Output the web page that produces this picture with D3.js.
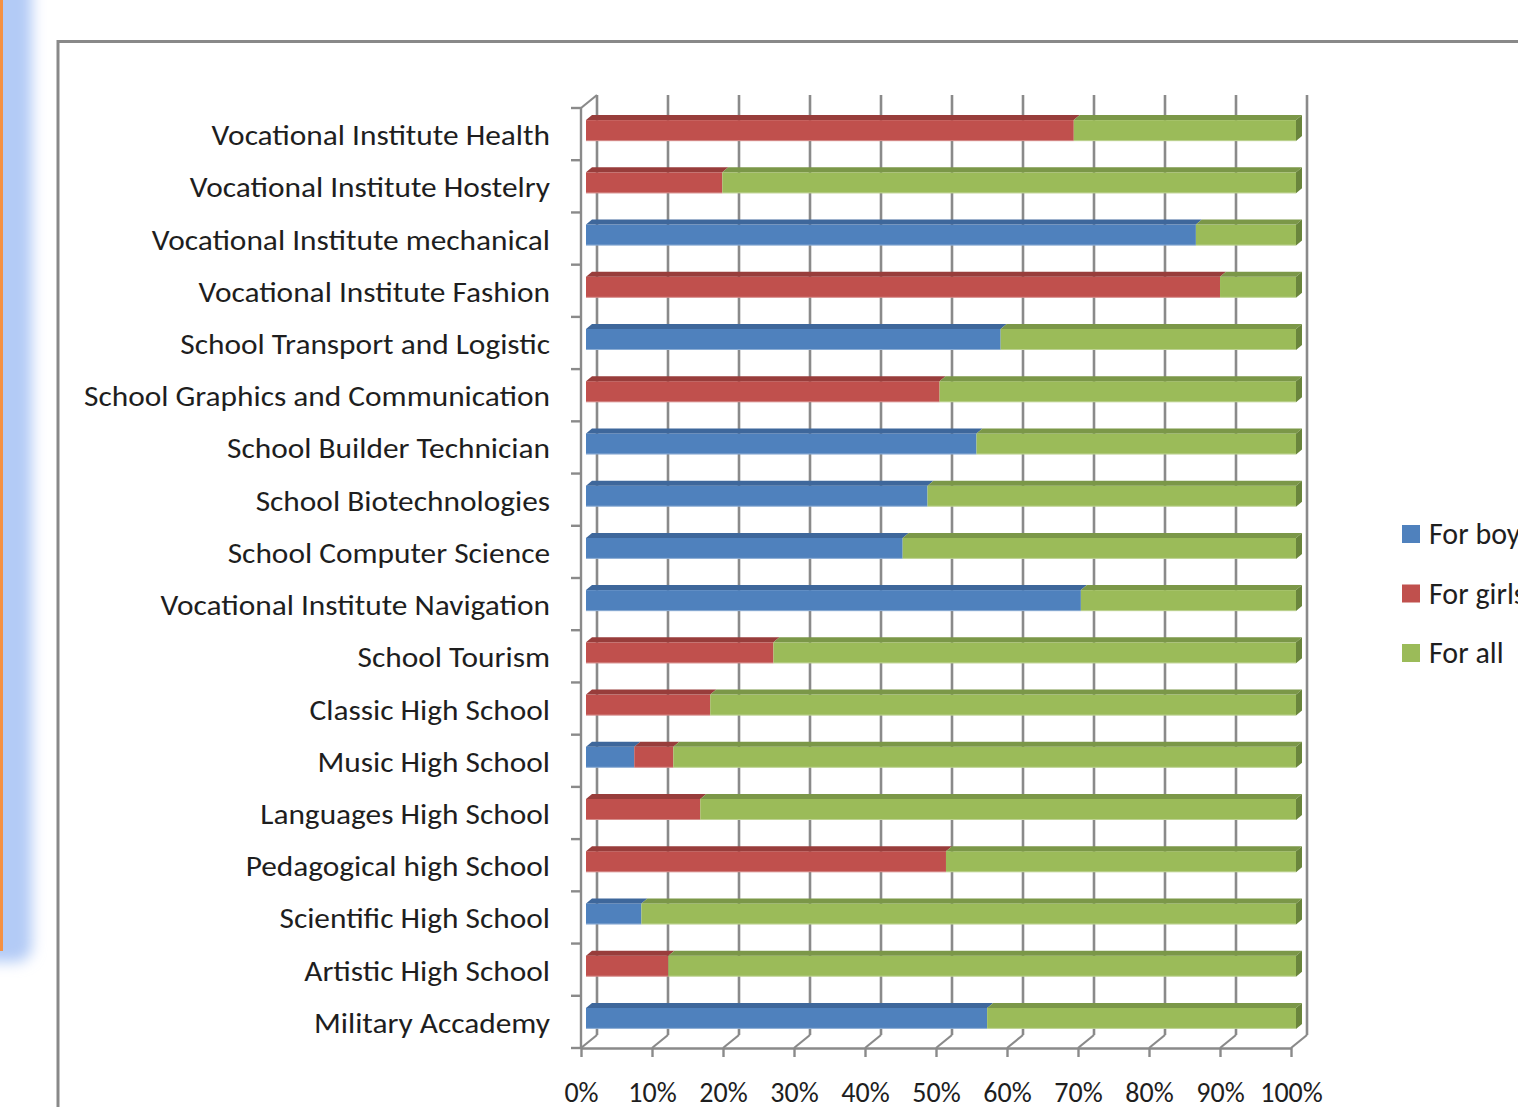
<!DOCTYPE html>
<html>
<head>
<meta charset="utf-8">
<script src="https://cdn.jsdelivr.net/npm/d3@7"></script>
<style>
  html, body { margin: 0; padding: 0; background: #ffffff; overflow: hidden; }
  svg { display: block; }
  text { font-family: Carlito, Calibri, Lato, "Noto Sans", sans-serif; fill: #1e1e1e; }
</style>
</head>
<body>
<svg id="chart" width="1518" height="1107"></svg>
<script>
// ---------------- data ----------------
const categories = [
  "Vocational Institute Health",
  "Vocational Institute Hostelry",
  "Vocational Institute mechanical",
  "Vocational Institute Fashion",
  "School Transport and Logistic",
  "School Graphics and Communication",
  "School Builder Technician",
  "School Biotechnologies",
  "School Computer Science",
  "Vocational Institute Navigation",
  "School Tourism",
  "Classic High School",
  "Music High School",
  "Languages High School",
  "Pedagogical high School",
  "Scientific High School",
  "Artistic High School",
  "Military Accademy"
];
const forBoys  = [0, 0, 85.9, 0, 58.4, 0, 55.0, 48.1, 44.6, 69.7, 0, 0, 6.8, 0, 0, 7.8, 0, 56.5];
const forGirls = [68.7, 19.2, 0, 89.3, 0, 49.8, 0, 0, 0, 0, 26.4, 17.5, 5.5, 16.1, 50.7, 0, 11.6, 0];
const forAll   = [31.3, 80.8, 14.1, 10.7, 41.6, 50.2, 45.0, 51.9, 55.4, 30.3, 73.6, 82.5, 87.7, 83.9, 49.3, 92.2, 88.4, 43.5];
const seriesNames = ["For boys", "For girls", "For all"];
const xTickValues = [0, 10, 20, 30, 40, 50, 60, 70, 80, 90, 100];

// ---------------- setup ----------------
const svg = d3.select("#chart");
const colors = ["#4f81bd", "#c0504d", "#9bbb59"];
const topColors = ["#3e679b", "#983d3b", "#7b9748"];
const sideColors = ["#36598a", "#843331", "#6a853c"];

const defs = svg.append("defs");
const blur = defs.append("filter").attr("id", "glow").attr("x", "-50%").attr("y", "-10%").attr("width", "200%").attr("height", "120%");
blur.append("feGaussianBlur").attr("stdDeviation", 7);

// slide decoration on the left
svg.append("rect").attr("x", -30).attr("y", -30).attr("width", 62).attr("height", 992)
  .attr("rx", 16).attr("fill", "#b3cbf6").attr("filter", "url(#glow)");
svg.append("rect").attr("x", 0).attr("y", 0).attr("width", 3).attr("height", 951).attr("fill", "#f59143");

// chart box
svg.append("rect").attr("x", 58).attr("y", 41.5).attr("width", 1600).attr("height", 1200)
  .attr("fill", "#ffffff").attr("stroke", "#898989").attr("stroke-width", 3);

// scales
const x = d3.scaleLinear().domain([0, 100]).range([581, 1291]);      // front floor edge
const y = d3.scaleBand().domain(categories).range([108, 1048]).padding(0);
const depth = { dx: 16, dy: -13 };             // full depth of the 3D box
const barDepth = { front: 5, dx: 6, dy: -5 };  // bar front offset and bar own depth
const barHalf = 10.5, barShift = -3.5;

const gridColor = "#8a8a8a";
const g = svg.append("g");

// back wall gridlines
g.selectAll("line.grid").data(xTickValues).join("line")
  .attr("x1", d => x(d) + depth.dx).attr("x2", d => x(d) + depth.dx)
  .attr("y1", y.range()[0] + depth.dy).attr("y2", y.range()[1] + depth.dy)
  .attr("stroke", gridColor).attr("stroke-width", 2.6);

// floor diagonals
g.selectAll("line.floor").data(xTickValues).join("line")
  .attr("x1", d => x(d)).attr("y1", y.range()[1])
  .attr("x2", d => x(d) + depth.dx).attr("y2", y.range()[1] + depth.dy)
  .attr("stroke", gridColor).attr("stroke-width", 2.2);

// left axis line + top diagonal
g.append("line").attr("x1", x(0)).attr("x2", x(0)).attr("y1", y.range()[0]).attr("y2", y.range()[1])
  .attr("stroke", gridColor).attr("stroke-width", 2.4);
g.append("line").attr("x1", x(0)).attr("y1", y.range()[0]).attr("x2", x(0) + depth.dx).attr("y2", y.range()[0] + depth.dy)
  .attr("stroke", gridColor).attr("stroke-width", 2.2);
// left ticks at category boundaries
const boundaries = categories.map(c => y(c)).concat([y.range()[1]]);
g.selectAll("line.ytick").data(boundaries).join("line")
  .attr("x1", x(0) - 10).attr("x2", x(0)).attr("y1", d => d).attr("y2", d => d)
  .attr("stroke", gridColor).attr("stroke-width", 2.4);

// bottom axis
const xAxis = d3.axisBottom(x).tickValues(xTickValues).tickFormat(d => d + "%").tickSize(9).tickSizeOuter(0).tickPadding(25);
const ax = svg.append("g").attr("transform", `translate(0,${y.range()[1]})`).call(xAxis);
ax.select(".domain").attr("stroke", gridColor).attr("stroke-width", 2.4);
ax.selectAll(".tick line").attr("stroke", gridColor).attr("stroke-width", 2.4);
ax.selectAll(".tick text").attr("font-size", 28).attr("fill", "#1e1e1e")
  .style("font-family", "Carlito, Calibri, Lato, 'Noto Sans', sans-serif");

// stacked bars
const rows = categories.map((c, i) => ({ cat: c, "For boys": forBoys[i], "For girls": forGirls[i], "For all": forAll[i] }));
const stacked = d3.stack().keys(seriesNames)(rows);
const xb = v => x(v) + barDepth.front;

const barsG = svg.append("g");
categories.forEach((c, i) => {
  const cy = y(c) + y.bandwidth() / 2 + barShift;
  const yt = cy - barHalf, yb = cy + barHalf;
  let lastEnd = null, lastIdx = 0;
  stacked.forEach((s, si) => {
    const seg = s[i];
    if (seg[1] - seg[0] <= 0) return;
    const x0 = xb(seg[0]), x1 = xb(seg[1]);
    barsG.append("rect").attr("x", x0).attr("y", yt).attr("width", x1 - x0).attr("height", yb - yt)
      .attr("fill", colors[si]);
    barsG.append("polygon")
      .attr("points", [[x0, yt], [x1, yt], [x1 + barDepth.dx, yt + barDepth.dy], [x0 + barDepth.dx, yt + barDepth.dy]].map(p => p.join(",")).join(" "))
      .attr("fill", topColors[si]);
    barsG.append("line").attr("x1", x0).attr("x2", x1).attr("y1", yb - 0.5).attr("y2", yb - 0.5)
      .attr("stroke", "#ffffff").attr("stroke-opacity", 0.35).attr("stroke-width", 1);
    lastEnd = x1; lastIdx = si;
  });
  if (lastEnd !== null) {
    barsG.append("polygon")
      .attr("points", [[lastEnd, yt], [lastEnd + barDepth.dx, yt + barDepth.dy], [lastEnd + barDepth.dx, yb + barDepth.dy], [lastEnd, yb]].map(p => p.join(",")).join(" "))
      .attr("fill", sideColors[lastIdx]);
  }
});

// category labels
const labels = svg.append("g").selectAll("text").data(categories).join("text")
  .attr("x", 550).attr("y", d => y(d) + y.bandwidth() / 2 + 11)
  .attr("text-anchor", "end").attr("font-size", 29).text(d => d);
// uniform horizontal fit, based on the widest label
let maxW = 0;
labels.each(function () { maxW = Math.max(maxW, this.getComputedTextLength()); });
const k = 466 / maxW;
labels.each(function () {
  const w = this.getComputedTextLength();
  d3.select(this).attr("textLength", w * k).attr("lengthAdjust", "spacingAndGlyphs");
});

// legend
const lg = svg.append("g");
seriesNames.forEach((n, i) => {
  const cy = 534 + i * 59.5;
  lg.append("rect").attr("x", 1402).attr("y", cy - 9).attr("width", 18).attr("height", 18).attr("fill", colors[i]);
  lg.append("text").attr("x", 1429).attr("y", cy + 10).attr("font-size", 30).text(n);
});
</script>
</body>
</html>
